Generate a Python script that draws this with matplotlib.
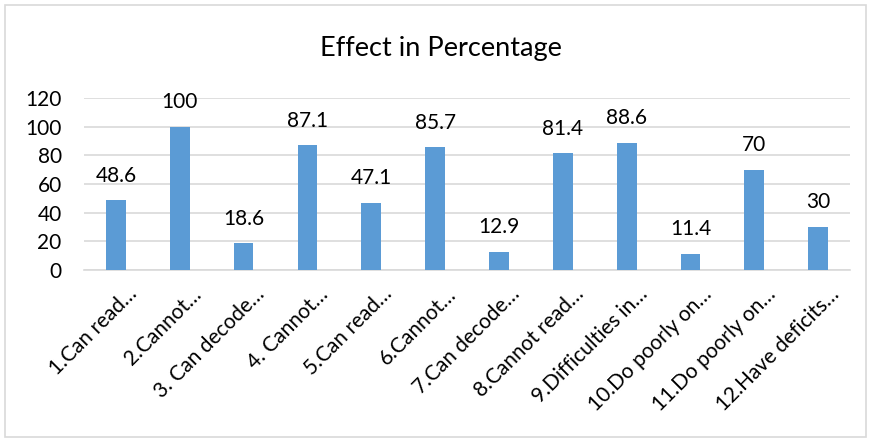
import matplotlib

matplotlib.use("Agg")
import matplotlib.pyplot as plt
from matplotlib.patches import Rectangle
from matplotlib.transforms import ScaledTranslation

categories = [
    "1.Can read…",
    "2.Cannot…",
    "3. Can decode…",
    "4. Cannot…",
    "5.Can read…",
    "6.Cannot…",
    "7.Can decode…",
    "8.Cannot read…",
    "9.Difficulties in…",
    "10.Do poorly on…",
    "11.Do poorly on…",
    "12.Have deficits…",
]
values = [48.6, 100, 18.6, 87.1, 47.1, 85.7, 12.9, 81.4, 88.6, 11.4, 70, 30]
value_labels = ["48.6", "100", "18.6", "87.1", "47.1", "85.7", "12.9", "81.4", "88.6", "11.4", "70", "30"]
yticks = [0, 20, 40, 60, 80, 100, 120]

plt.rcParams["font.family"] = ["Lato", "DejaVu Sans"]

fig = plt.figure(figsize=(8.71, 4.42), dpi=100)
fig.patches.append(
    Rectangle((0.006, 0.011), 0.988, 0.978, transform=fig.transFigure,
              fill=False, edgecolor="#d9d9d9", linewidth=1.2)
)
ax = fig.add_axes([0.0964, 0.389, 0.8796, 0.389])

x = range(len(categories))
bars = ax.bar(x, values, width=0.31, color="#5b9bd5", zorder=3)
for bar, label in zip(bars, value_labels):
    ax.annotate(label, (bar.get_x() + bar.get_width() / 2, bar.get_height()),
                xytext=(0, 13.5), textcoords="offset points",
                ha="center", va="baseline", fontsize=15, color="#000000")

ax.set_xlim(-0.5, len(categories) - 0.5)
ax.set_ylim(0, 120)
ax.set_yticks(yticks)
ax.set_yticklabels([str(v) for v in yticks], fontsize=15)
ax.yaxis.grid(True, color="#d9d9d9", linewidth=1.2, zorder=0)
ax.set_xticks(list(x))
ax.set_xticklabels(categories, rotation=45, ha="right", va="top",
                   rotation_mode="anchor", fontsize=15)
ax.tick_params(axis="y", length=0, pad=16)
ax.tick_params(axis="x", length=0, pad=10)
# nudge the slanted labels so their ends sit just right of each bar
shift = ScaledTranslation(0.11, 0, fig.dpi_scale_trans)
for tick_label in ax.get_xticklabels():
    tick_label.set_transform(tick_label.get_transform() + shift)
for side in ("top", "right", "left"):
    ax.spines[side].set_visible(False)
ax.spines["bottom"].set_color("#d9d9d9")
ax.spines["bottom"].set_linewidth(1.2)

fig.text(0.506, 0.89, "Effect in Percentage", ha="center", va="center", fontsize=19.5)

fig.savefig("out.png", dpi=100)
